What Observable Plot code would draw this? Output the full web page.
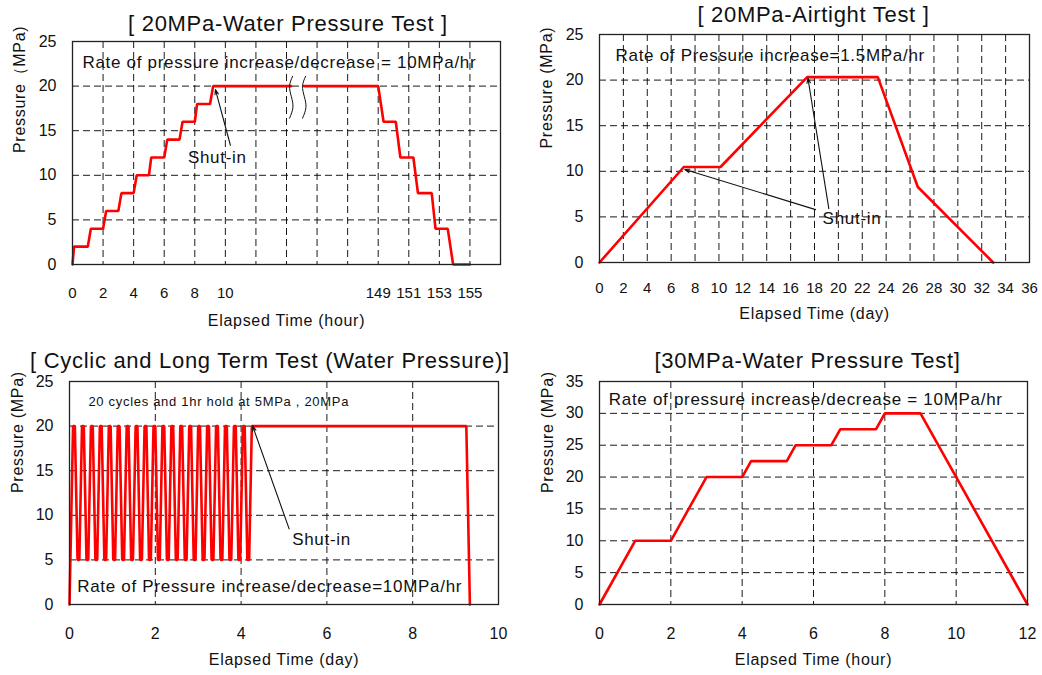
<!DOCTYPE html>
<html>
<head>
<meta charset="utf-8">
<script src="https://cdn.jsdelivr.net/npm/d3@7"></script>
<script src="https://cdn.jsdelivr.net/npm/@observablehq/plot@0.6"></script>
<style>
  body { margin: 0; background: #fff; }
  #wrap { position: relative; width: 1042px; height: 675px; overflow: hidden; background: #fff; }
  .panel { position: absolute; }
  .panel svg { overflow: visible; }
  g[aria-label="x-axis tick label"], g[aria-label="y-axis tick label"] { letter-spacing: 0 !important; }
</style>
</head>
<body>
<div id="wrap"></div>
<script>
// ---------------- Panel 1: 20MPa water pressure test (hours, broken axis) ----------------
const p1RiseHours    = [0, 0.1, 1, 1.2, 2, 2.2, 3, 3.2, 4, 4.2, 5, 5.15, 6, 6.2, 7, 7.2, 8, 8.15, 9, 9.2, 14.3];
const p1RisePressure = [0, 2, 2, 4, 4, 6, 6, 8, 8, 10, 10, 12, 12, 14, 14, 16, 16, 18, 18, 20, 20];
const p1FallHours    = [144.15, 149, 149.35, 150.15, 150.45, 151.3, 151.6, 152.5, 152.75, 153.55, 153.9, 155];
const p1FallPressure = [20, 20, 16, 16, 12, 12, 8, 8, 4, 4, 0, 0];
const p1AxisGap = 129;                       // hours 149..155 drawn right after 10..20 (axis break)
const p1TickHours = [0, 2, 4, 6, 8, 10, 149, 151, 153, 155];
const p1BreakAt = [14.3, 15.15];             // axis-break marks (axis units)
const p1BreakY  = [21.1, 20.0, 18.8, 17.6, 16.4];
const p1BreakDx = [0.1, -0.1, 0.02, 0.12, -0.1];

// ---------------- Panel 2: 20MPa airtight test (days) ----------------
const p2Days     = [0, 7.06, 10.13, 17.39, 23.3, 26.65, 32.96];
const p2Pressure = [0, 10.47, 10.47, 20.33, 20.33, 8.28, 0];

// ---------------- Panel 3: cyclic and long term test (hours -> days) ----------------
const p3Hours = [0,
  2, 3, 4.5, 5.5,   7, 8, 9.5, 10.5,   12, 13, 14.5, 15.5,   17, 18, 19.5, 20.5,
  22, 23, 24.5, 25.5,   27, 28, 29.5, 30.5,   32, 33, 34.5, 35.5,   37, 38, 39.5, 40.5,
  42, 43, 44.5, 45.5,   47, 48, 49.5, 50.5,   52, 53, 54.5, 55.5,   57, 58, 59.5, 60.5,
  62, 63, 64.5, 65.5,   67, 68, 69.5, 70.5,   72, 73, 74.5, 75.5,   77, 78, 79.5, 80.5,
  82, 83, 84.5, 85.5,   87, 88, 89.5, 90.5,   92, 93, 94.5, 95.5,   97, 98, 99.5, 100.5,
  102, 222, 224];
const p3Pressure = [0,
  20, 20, 5, 5,   20, 20, 5, 5,   20, 20, 5, 5,   20, 20, 5, 5,
  20, 20, 5, 5,   20, 20, 5, 5,   20, 20, 5, 5,   20, 20, 5, 5,
  20, 20, 5, 5,   20, 20, 5, 5,   20, 20, 5, 5,   20, 20, 5, 5,
  20, 20, 5, 5,   20, 20, 5, 5,   20, 20, 5, 5,   20, 20, 5, 5,
  20, 20, 5, 5,   20, 20, 5, 5,   20, 20, 5, 5,   20, 20, 5, 5,
  20, 20, 0];

// ---------------- Panel 4: 30MPa water pressure test (hours) ----------------
const p4Hours    = [0, 1, 2, 3, 4, 4.25, 5.25, 5.5, 6.5, 6.75, 7.75, 8, 9, 12];
const p4Pressure = [0, 10, 10, 20, 20, 22.5, 22.5, 25, 25, 27.5, 27.5, 30, 30, 0];

// ---------------- texts ----------------
const titles = ["[ 20MPa-Water Pressure Test ]", "[ 20MPa-Airtight Test ]",
                "[ Cyclic and Long Term Test (Water Pressure)]", "[30MPa-Water Pressure Test]"];
const xLabels = ["Elapsed Time (hour)", "Elapsed Time (day)", "Elapsed Time (day)", "Elapsed Time (hour)"];
const yLabels = ["Pressure（MPa)", "Pressure (MPa)", "Pressure (MPa)", "Pressure (MPa)"];
const rateTexts = ["Rate of pressure increase/decrease = 10MPa/hr", "Rate of Pressure increase=1.5MPa/hr",
                   "Rate of Pressure increase/decrease=10MPa/hr", "Rate of pressure increase/decrease = 10MPa/hr"];
const cycleNote = "20 cycles and 1hr hold at 5MPa , 20MPa";
const shutIn = "Shut-in";

// ---------------- helpers ----------------
const FONT = '"Liberation Sans", Arial, Helvetica, sans-serif';
const INK = "#111";
const RED = "#ff0000";
const grid = {stroke: "#000", strokeOpacity: 0.9, strokeWidth: 1, strokeDasharray: "7,4"};
const rows = (xs, ys) => xs.map((x, i) => ({x, y: ys[i]}));
const redLine = (data, x = "x") => Plot.line(data, {x, y: "y", stroke: RED, strokeWidth: 2.6, strokeLinejoin: "miter"});
const note = (t, x, y, size = 17) => Plot.text([{t, x, y}], {x: "x", y: "y", text: "t", textAnchor: "start", lineAnchor: "middle", fontSize: size, fill: INK});
const arrow = (x1, y1, x2, y2) => Plot.arrow([{x1, y1, x2, y2}], {x1: "x1", y1: "y1", x2: "x2", y2: "y2", stroke: INK, strokeWidth: 1.1, headLength: 7, headAngle: 40});

function panel(cfg) {
  const [mt, mr, mb, ml] = cfg.margin;
  const fig = Plot.plot({
    width: cfg.width, height: cfg.height,
    marginTop: mt, marginRight: mr, marginBottom: mb, marginLeft: ml,
    x: {domain: cfg.xDomain}, y: {domain: cfg.yDomain},
    style: {fontFamily: FONT, color: INK, background: "transparent", letterSpacing: "0.7px", overflow: "visible"},
    marks: [
      Plot.gridX(cfg.xGrid, grid),
      Plot.gridY(cfg.yGrid, grid),
      ...cfg.marks,
      Plot.frame({stroke: "#222", strokeWidth: 1.3}),
      Plot.axisX(cfg.xTicks, {tickSize: 0, tickPadding: cfg.xPad, fontSize: cfg.xFont, tickFormat: cfg.xFormat, label: null, fill: INK}),
      Plot.axisY(cfg.yTicks, {tickSize: 0, tickPadding: 16, fontSize: 16, label: null, fill: INK}),
      Plot.text([cfg.title], {text: d => d, frameAnchor: "top", dy: cfg.titleDy, dx: cfg.titleDx, fontSize: 22, lineAnchor: "middle", fill: INK}),
      Plot.text([cfg.xLabel], {text: d => d, frameAnchor: "bottom", dy: cfg.xLabelDy, fontSize: 16, lineAnchor: "middle", fill: INK}),
      Plot.text([cfg.yLabel], {text: d => d, frameAnchor: "left", dx: cfg.yLabelDx, rotate: -90, fontSize: 16, lineAnchor: "middle", fill: INK})
    ]
  });
  const div = document.createElement("div");
  div.className = "panel";
  div.style.left = cfg.left + "px";
  div.style.top = cfg.top + "px";
  div.appendChild(fig);
  document.getElementById("wrap").appendChild(div);
}

// ---------- Panel 1 ----------
const p1Pos = h => (h > 100 ? h - p1AxisGap : h);
const p1Rise = rows(p1RiseHours, p1RisePressure).map(d => ({x: p1Pos(d.x), y: d.y}));
const p1Fall = rows(p1FallHours, p1FallPressure).map(d => ({x: p1Pos(d.x), y: d.y}));
const p1Squiggles = p1BreakAt.flatMap((b, k) => p1BreakY.map((y, i) => ({k, x: b + p1BreakDx[i], y})));
panel({
  left: 0, top: 0, width: 520, height: 340, margin: [41, 20, 76, 72],
  xDomain: [0, 28], yDomain: [0, 25],
  xGrid: d3.range(2, 28, 2), yGrid: [5, 10, 15, 20],
  xTicks: p1TickHours.map(p1Pos), xFormat: p => String(p >= 20 ? p + p1AxisGap : p), xPad: 22.5, xFont: 15,
  yTicks: [0, 5, 10, 15, 20, 25],
  title: titles[0], titleDy: -18, titleDx: 1.5,
  xLabel: xLabels[0], xLabelDy: 56, yLabel: yLabels[0], yLabelDx: -52.7,
  marks: [
    redLine(p1Rise), redLine(p1Fall),
    Plot.line(p1Squiggles, {x: "x", y: "y", z: "k", curve: "natural", stroke: INK, strokeWidth: 1}),
    note(rateTexts[0], 0.65, 22.65),
    note(shutIn, 7.55, 11.95),
    arrow(10.33, 13.37, 9.35, 19.6)
  ]
});

// ---------- Panel 2 ----------
panel({
  left: 520, top: 0, width: 522, height: 340, margin: [34, 13, 78, 79],
  xDomain: [0, 36], yDomain: [0, 25],
  xGrid: d3.range(2, 36, 2), yGrid: [5, 10, 15, 20],
  xTicks: d3.range(0, 37, 2), xFormat: d => String(d), xPad: 19.5, xFont: 15,
  yTicks: [0, 5, 10, 15, 20, 25],
  title: titles[1], titleDy: -19.3, titleDx: -1,
  xLabel: xLabels[1], xLabelDy: 51, yLabel: yLabels[1], yLabelDx: -52.3,
  marks: [
    redLine(rows(p2Days, p2Pressure)),
    note(rateTexts[1], 1.34, 22.7),
    note(shutIn, 18.68, 4.85),
    arrow(18.09, 5.8, 7.14, 10.2),
    arrow(19.2, 5.91, 17.45, 20.2)
  ]
});

// ---------- Panel 3 ----------
panel({
  left: 0, top: 340, width: 520, height: 335, margin: [41, 22, 71, 69],
  xDomain: [0, 10], yDomain: [0, 25],
  xGrid: [2, 4, 6, 8], yGrid: [5, 10, 15, 20],
  xTicks: [0, 2, 4, 6, 8, 10], xFormat: d => String(d), xPad: 22.7, xFont: 16,
  yTicks: [0, 5, 10, 15, 20, 25],
  title: titles[2], titleDy: -20.2, titleDx: -14,
  xLabel: xLabels[2], xLabelDy: 55.7, yLabel: yLabels[2], yLabelDx: -51.7,
  marks: [
    redLine(rows(p3Hours, p3Pressure).map(d => ({x: d.x / 24, y: d.y}))),
    note(cycleNote, 0.44, 22.7, 13),
    note(rateTexts[2], 0.18, 2.05),
    note(shutIn, 5.19, 7.25),
    arrow(5.12, 8.48, 4.27, 20)
  ]
});

// ---------- Panel 4 ----------
panel({
  left: 520, top: 340, width: 522, height: 335, margin: [41, 15, 71, 79],
  xDomain: [0, 12], yDomain: [0, 35],
  xGrid: [2, 4, 6, 8, 10], yGrid: [5, 10, 15, 20, 25, 30],
  xTicks: [0, 2, 4, 6, 8, 10, 12], xFormat: d => String(d), xPad: 22.7, xFont: 16,
  yTicks: [0, 5, 10, 15, 20, 25, 30, 35],
  title: titles[3], titleDy: -20.2, titleDx: -6,
  xLabel: xLabels[3], xLabelDy: 55.7, yLabel: yLabels[3], yLabelDx: -51.7,
  marks: [
    redLine(rows(p4Hours, p4Pressure)),
    note(rateTexts[3], 0.26, 32.24)
  ]
});
</script>
</body>
</html>
